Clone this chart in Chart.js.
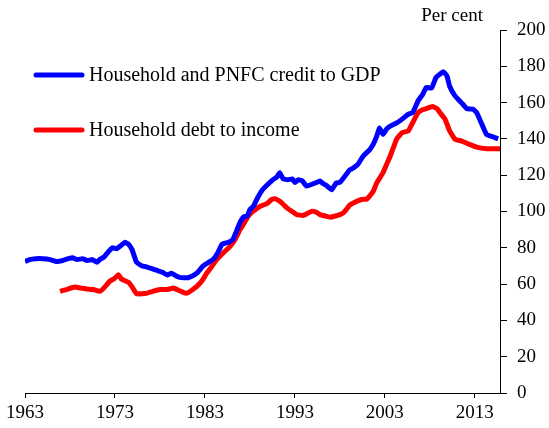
<!DOCTYPE html>
<html>
<head>
<meta charset="utf-8">
<script src="https://cdn.jsdelivr.net/npm/chart.js@4"></script>
<style>
  html, body { margin: 0; padding: 0; background: #fff; }
  .grafico-container { position: relative; width: 549px; height: 428px; }
</style>
</head>
<body>
<div class="grafico-container"><canvas id="graficoCredito"></canvas></div>
<script>
// Dados (anos decimais, aproximadamente trimestrais)
const anosCredito = [
  1963.0, 1963.5, 1964.2, 1965.0, 1965.8, 1966.5, 1967.2, 1967.8, 1968.3, 1968.8,
  1969.4, 1969.9, 1970.5, 1971.0, 1971.3, 1971.8, 1972.3, 1972.7, 1973.2, 1973.6,
  1974.1, 1974.5, 1974.9, 1975.4, 1976.0, 1976.5, 1977.1, 1977.7, 1978.3, 1978.8,
  1979.3, 1979.8, 1980.2, 1980.7, 1981.1, 1981.6, 1982.1, 1982.8, 1983.4, 1983.9,
  1984.4, 1984.9, 1985.6, 1986.1, 1986.5, 1986.9, 1987.3, 1987.7, 1988.0, 1988.4,
  1988.9, 1989.4, 1990.0, 1990.6, 1991.0, 1991.3, 1991.7, 1992.2, 1992.7, 1993.0,
  1993.4, 1993.8, 1994.3, 1994.9, 1995.4, 1995.8, 1996.1, 1996.5, 1997.1, 1997.6,
  1998.0, 1998.7, 1999.1, 1999.5, 2000.0, 2000.6, 2001.3, 2001.7, 2002.1, 2002.4,
  2002.8, 2003.2, 2003.6, 2004.2, 2004.7, 2005.2, 2005.6, 2006.1, 2006.7, 2007.2,
  2007.6, 2008.2, 2008.7, 2009.2, 2009.5, 2009.9, 2010.2, 2010.8, 2011.5, 2012.1,
  2012.8, 2013.2, 2013.7, 2014.3, 2015.0, 2015.6
];
const valoresCredito = [
  72.5, 73.5, 74, 74, 73.5, 72.5, 73, 74, 74.5, 73.5,
  74, 73, 73.5, 72, 73.5, 75, 78, 80, 79.5, 81,
  83, 82, 79, 72, 70, 69.5, 68.5, 67.5, 66.5, 65,
  66, 64.5, 63.7, 63.5, 63.5, 64.5, 66, 70, 72, 73.5,
  77, 82, 83, 84.5, 89, 94, 97, 97.5, 101, 103,
  108, 112, 115, 117.7, 119, 121.4, 118, 117.5, 118, 116,
  117.5, 117, 114, 115, 116, 116.8, 115.5, 114.4, 112, 115.8,
  116, 120.4, 123, 124, 126, 130.6, 134, 137, 141.5, 146,
  142.5, 145.5, 147, 148.5, 150, 152, 153.6, 154.5, 161, 164.5,
  168.3, 168, 174, 176, 177, 174.8, 169, 163.7, 160, 156.7,
  156.4, 154.5, 149, 142.5, 141.2, 140
];

const anosDivida = [
  1966.9, 1967.6, 1968.2, 1968.6, 1969.2, 1969.9, 1970.6, 1971.3, 1971.8, 1972.4,
  1972.9, 1973.4, 1973.7, 1974.5, 1974.9, 1975.4, 1976.5, 1977.2, 1978.0, 1978.8,
  1979.5, 1980.1, 1980.6, 1981.0, 1981.5, 1982.1, 1982.7, 1983.2, 1983.8, 1984.3,
  1985.0, 1985.8, 1986.4, 1986.9, 1987.4, 1987.8, 1988.2, 1988.6, 1989.2, 1989.9,
  1990.4, 1990.8, 1991.3, 1991.7, 1992.1, 1992.7, 1993.2, 1993.9, 1994.4, 1994.9,
  1995.4, 1995.8, 1996.4, 1996.9, 1997.5, 1998.0, 1998.4, 1998.7, 1999.1, 1999.5,
  2000.4, 2001.0, 2001.3, 2001.7, 2002.1, 2002.8, 2003.2, 2003.6, 2004.3, 2004.9,
  2005.6, 2006.1, 2006.7, 2007.2, 2007.6, 2008.3, 2008.8, 2009.2, 2009.7, 2010.2,
  2010.8, 2011.5, 2012.4, 2013.2, 2014.3, 2015.4, 2015.8
];
const valoresDivida = [
  56, 57, 58, 58.4, 57.8, 57.3, 57, 56, 58, 61.5,
  63, 65.2, 62.8, 61, 58.5, 54.7, 55, 56, 57, 57,
  57.8, 56.5, 55.4, 55, 56.5, 58.7, 62, 66, 70, 73.5,
  77, 80.8, 85, 90, 94, 97.4, 99.5, 101, 103, 104.4,
  106.6, 107, 105.7, 104, 102, 100, 98.3, 97.8, 99, 100.2,
  99.5, 98.3, 97.5, 96.9, 97.5, 98.3, 99.3, 101, 103.5, 104.7,
  106.6, 106.8, 108.5, 111, 115.8, 121.4, 126, 130.6, 139.8, 143.4,
  144.4, 149, 154.5, 156, 156.7, 157.8, 156.7, 154, 150.8, 144.4,
  139.8, 138.9, 137, 135.5, 134.6, 134.6, 134.6
];

const rotulosAnos = [1963, 1973, 1983, 1993, 2003, 2013];
const ticksY = [0, 20, 40, 60, 80, 100, 120, 140, 160, 180, 200];

const nomesSeries = ['Household and PNFC credit to GDP', 'Household debt to income'];
const coresSeries = ['#0000ff', '#ff0000'];

const fonte = '"Liberation Serif", "Times New Roman", serif';

// Legenda e texto "Per cent" desenhados dentro do canvas
const pluginAnotacoes = {
  id: 'anotacoes',
  afterDraw(chart) {
    const ctx = chart.ctx;
    ctx.save();
    ctx.fillStyle = '#000';
    ctx.textBaseline = 'middle';

    ctx.font = '19px ' + fonte;
    ctx.textAlign = 'right';
    ctx.fillText('Per cent', 483, 16);

    ctx.font = '20px ' + fonte;
    ctx.textAlign = 'left';
    const posY = [75, 130];
    nomesSeries.forEach((nome, i) => {
      ctx.strokeStyle = coresSeries[i];
      ctx.lineWidth = 5;
      ctx.lineCap = 'round';
      ctx.beginPath();
      ctx.moveTo(36, posY[i]);
      ctx.lineTo(82, posY[i]);
      ctx.stroke();
      ctx.fillText(nome, 89, posY[i] + 1);
    });
    ctx.restore();
  }
};

function criarGrafico() {
  const ctx = document.getElementById('graficoCredito').getContext('2d');
  new Chart(ctx, {
    type: 'line',
    data: {
      datasets: [
        {
          label: nomesSeries[0],
          data: anosCredito.map((a, i) => ({ x: a, y: valoresCredito[i] })),
          borderColor: coresSeries[0],
          borderWidth: 5,
          pointRadius: 0,
          tension: 0.1
        },
        {
          label: nomesSeries[1],
          data: anosDivida.map((a, i) => ({ x: a, y: valoresDivida[i] })),
          borderColor: coresSeries[1],
          borderWidth: 5,
          pointRadius: 0,
          tension: 0.1
        }
      ]
    },
    options: {
      responsive: true,
      maintainAspectRatio: false,
      animation: false,
      layout: { padding: { top: 30, left: 25, right: 0, bottom: 0 } },
      plugins: {
        legend: { display: false },
        tooltip: { enabled: false }
      },
      scales: {
        x: {
          type: 'linear',
          min: 1963,
          max: 2015.8,
          afterBuildTicks: (escala) => {
            escala.ticks = rotulosAnos.map(v => ({ value: v }));
          },
          afterFit: (escala) => { escala.height = 35; },
          grid: { drawOnChartArea: false, drawTicks: true, tickLength: 5, color: '#000' },
          border: { display: true, color: '#000', width: 1 },
          ticks: {
            color: '#000',
            font: { family: fonte, size: 19 },
            padding: 4,
            maxRotation: 0,
            autoSkip: false,
            callback: (v) => String(v)
          }
        },
        y: {
          position: 'right',
          min: 0,
          max: 200,
          afterBuildTicks: (escala) => {
            escala.ticks = ticksY.map(v => ({ value: v }));
          },
          afterFit: (escala) => { escala.width = 49; },
          grid: { drawOnChartArea: false, drawTicks: true, tickLength: 7, color: '#000' },
          border: { display: true, color: '#000', width: 1 },
          ticks: {
            color: '#000',
            font: { family: fonte, size: 19 },
            padding: 10,
            callback: (v) => String(v)
          }
        }
      }
    },
    plugins: [pluginAnotacoes]
  });
}

document.addEventListener('DOMContentLoaded', criarGrafico);
</script>
</body>
</html>
